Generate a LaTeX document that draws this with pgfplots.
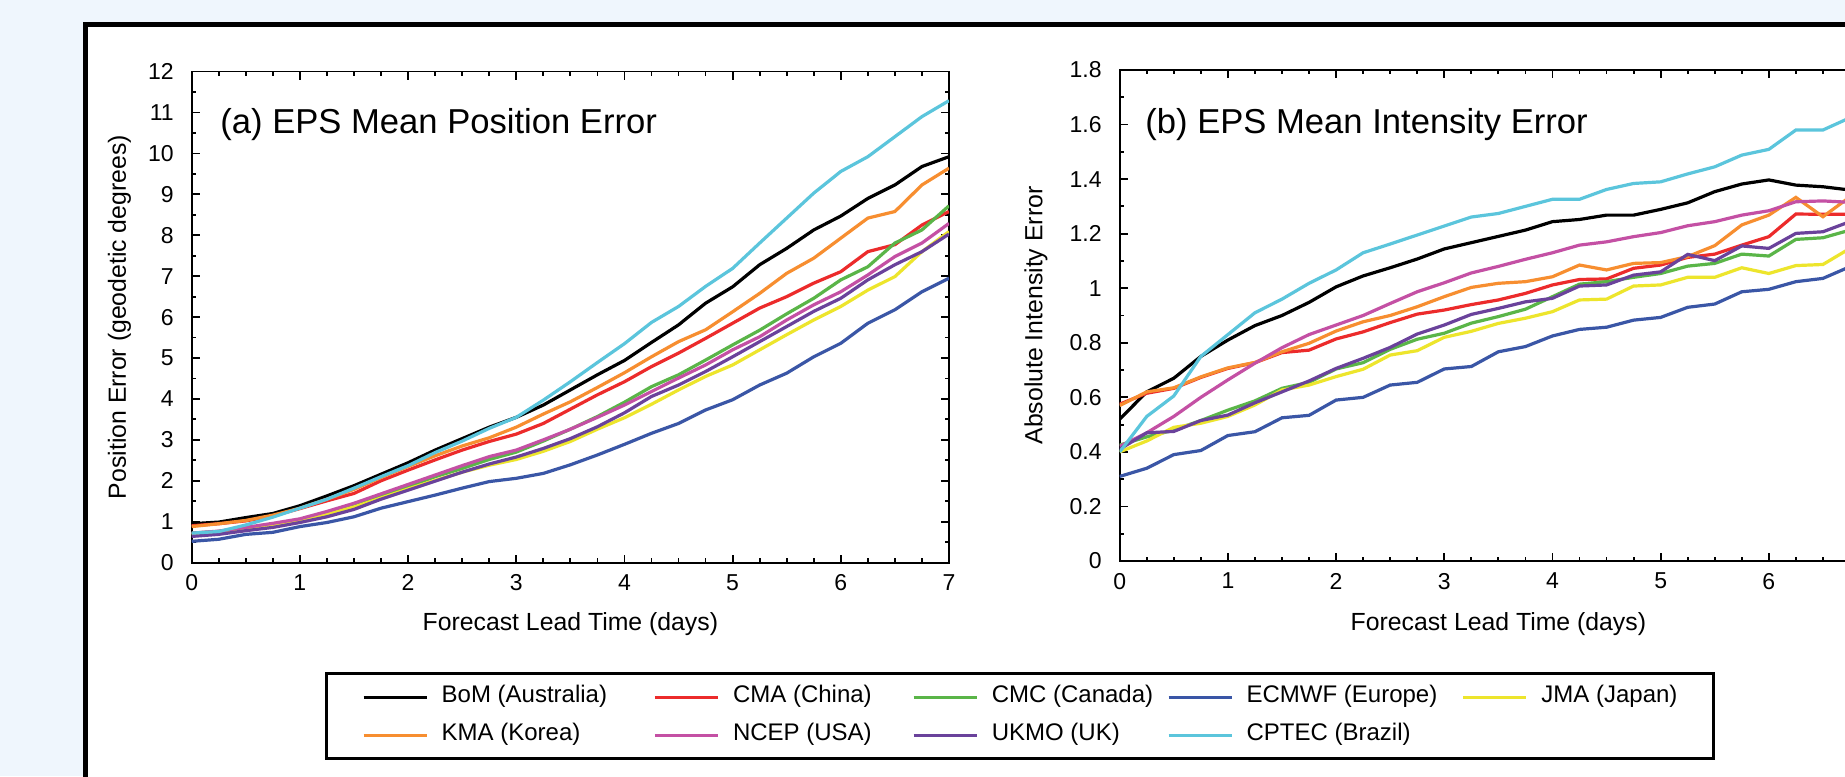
\documentclass[border=0pt]{standalone}
\usepackage{fontspec}
\setmainfont{Liberation Sans}
\usepackage{pgfplots}
\usepackage{pgfplotstable}
\pgfplotsset{compat=1.18}

\definecolor{bgblue}{RGB}{239,246,253}
\definecolor{cbom}{HTML}{000000}
\definecolor{ccma}{HTML}{EC2B2B}
\definecolor{ccmc}{HTML}{5AB548}
\definecolor{cecm}{HTML}{3A56A6}
\definecolor{cjma}{HTML}{EDE52C}
\definecolor{ckma}{HTML}{F78E30}
\definecolor{cncep}{HTML}{C450A4}
\definecolor{cukmo}{HTML}{6A429B}
\definecolor{ccptec}{HTML}{5BC5DC}

% position error (geodetic degrees)
\pgfplotstableread{
t    bom   cma   cmc   ecmwf jma   kma   ncep  ukmo  cptec
0    0.95  0.90  0.72  0.52  0.70  0.88  0.72  0.64  0.72
0.25 0.99  0.95  0.76  0.57  0.75  0.95  0.77  0.69  0.76
0.5  1.10  1.02  0.84  0.69  0.83  1.03  0.86  0.78  0.92
0.75 1.20  1.14  0.92  0.74  0.91  1.16  0.96  0.86  1.11
1    1.39  1.32  1.03  0.88  1.01  1.33  1.07  0.98  1.33
1.25 1.63  1.51  1.19  0.98  1.18  1.55  1.25  1.12  1.55
1.5  1.88  1.69  1.38  1.12  1.36  1.79  1.45  1.30  1.82
1.75 2.16  2.00  1.61  1.33  1.58  2.08  1.68  1.55  2.10
2    2.44  2.26  1.86  1.49  1.80  2.35  1.91  1.77  2.37
2.25 2.75  2.51  2.10  1.65  2.01  2.61  2.14  1.99  2.69
2.5  3.03  2.75  2.30  1.82  2.21  2.85  2.37  2.21  2.97
2.75 3.31  2.96  2.52  1.98  2.38  3.05  2.59  2.41  3.28
3    3.55  3.14  2.70  2.06  2.52  3.31  2.75  2.58  3.55
3.25 3.85  3.40  2.97  2.18  2.72  3.63  3.00  2.79  3.97
3.5  4.22  3.75  3.26  2.39  2.96  3.93  3.26  3.03  4.42
3.75 4.59  4.10  3.57  2.63  3.26  4.28  3.55  3.32  4.89
4    4.94  4.42  3.92  2.89  3.54  4.64  3.85  3.66  5.35
4.25 5.38  4.79  4.30  3.16  3.87  5.03  4.18  4.06  5.87
4.5  5.81  5.12  4.59  3.40  4.22  5.40  4.51  4.34  6.26
4.75 6.34  5.48  4.95  3.73  4.55  5.69  4.83  4.67  6.75
5    6.74  5.85  5.32  3.98  4.83  6.13  5.20  5.03  7.19
5.25 7.28  6.22  5.68  4.34  5.20  6.58  5.52  5.40  7.81
5.5  7.68  6.50  6.08  4.63  5.57  7.07  5.93  5.77  8.42
5.75 8.13  6.83  6.46  5.03  5.93  7.44  6.30  6.14  9.03
6    8.47  7.11  6.91  5.36  6.26  7.93  6.62  6.46  9.56
6.25 8.90  7.60  7.23  5.85  6.66  8.42  7.03  6.91  9.92
6.5  9.23  7.77  7.81  6.18  6.99  8.58  7.48  7.28  10.41
6.75 9.68  8.25  8.13  6.62  7.60  9.23  7.81  7.60  10.90
7    9.92  8.58  8.72  6.95  8.09  9.64  8.29  8.03  11.29
}\postab

% absolute intensity error
\pgfplotstableread{
t    bom   cma   cmc   ecmwf jma   kma   ncep  ukmo  cptec
0    0.52  0.575 0.425 0.31  0.40  0.57  0.42  0.41  0.40
0.25 0.62  0.615 0.455 0.34  0.44  0.62  0.47  0.47  0.53
0.5  0.67  0.633 0.48  0.39  0.49  0.635 0.53  0.475 0.605
0.75 0.75  0.673 0.515 0.405 0.505 0.675 0.60  0.515 0.75
1    0.81  0.706 0.553 0.46  0.53  0.708 0.664 0.535 0.83
1.25 0.863 0.727 0.587 0.474 0.572 0.728 0.725 0.58  0.91
1.5  0.90  0.764 0.633 0.525 0.627 0.767 0.782 0.62  0.96
1.75 0.948 0.773 0.655 0.534 0.645 0.798 0.83  0.66  1.018
2    1.005 0.814 0.704 0.59  0.676 0.843 0.865 0.706 1.067
2.25 1.045 0.84  0.727 0.60  0.703 0.877 0.90  0.743 1.13
2.5  1.075 0.874 0.776 0.645 0.755 0.90  0.944 0.783 1.162
2.75 1.107 0.905 0.813 0.655 0.771 0.932 0.987 0.832 1.195
3    1.144 0.92  0.835 0.704 0.82  0.969 1.02  0.865 1.228
3.25 1.167 0.94  0.872 0.713 0.842 1.003 1.056 0.904 1.261
3.5  1.19  0.957 0.896 0.767 0.871 1.018 1.08  0.926 1.274
3.75 1.213 0.981 0.923 0.786 0.89  1.024 1.106 0.95  1.30
4    1.244 1.012 0.969 0.825 0.914 1.042 1.13  0.963 1.326
4.25 1.252 1.032 1.015 0.849 0.957 1.085 1.158 1.008 1.326
4.5  1.268 1.034 1.024 0.857 0.96  1.067 1.17  1.012 1.362
4.75 1.268 1.073 1.04  0.883 1.008 1.091 1.189 1.048 1.384
5    1.289 1.085 1.054 0.893 1.012 1.094 1.204 1.06  1.39
5.25 1.313 1.113 1.081 0.93  1.04  1.116 1.229 1.124 1.419
5.5  1.354 1.125 1.091 0.942 1.04  1.156 1.244 1.101 1.445
5.75 1.382 1.158 1.125 0.987 1.075 1.232 1.268 1.155 1.488
6    1.397 1.189 1.118 0.996 1.054 1.268 1.284 1.146 1.509
6.25 1.378 1.272 1.179 1.024 1.083 1.333 1.317 1.201 1.58
6.5  1.372 1.271 1.185 1.036 1.087 1.262 1.32  1.207 1.58
6.75 1.36  1.271 1.213 1.079 1.146 1.335 1.315 1.244 1.625
7    1.35  1.29  1.25  1.12  1.20  1.30  1.33  1.28  1.66
}\inttab

\newcommand{\LE}[2]{\hspace*{6.75pt}\makebox[#1][l]{#2}}

\pgfplotsset{
  eps/.style={
    scale only axis, width=378.65pt, height=245.5pt, anchor=south west,
    xmin=0, xmax=7, xtick={0,1,...,7},
    minor x tick num=3, minor y tick num=1,
    tick align=inside, tick pos=both,
    axis line style={line width=0.9pt},
    tick style={line width=0.9pt, black},
    major tick length=4pt, minor tick length=2.2pt,
    /pgf/number format/assume math mode=true,
    ticklabel style={font=\fontsize{11.5}{13}\selectfont},
    xticklabel style={yshift=-2.5pt},
    yticklabel style={xshift=-5.5pt},
    label style={font=\fontsize{12.4}{14}\selectfont},
    xlabel={Forecast Lead Time (days)},
    every axis plot/.append style={line width=1.6pt, mark=none},
  },
}

\begin{document}
\begin{tikzpicture}
\useasboundingbox (0,0) rectangle (922.5pt,388pt);
\fill[bgblue] (0,0) rectangle (922.5pt,388pt);
\clip (0,0) rectangle (922.5pt,388pt);
\filldraw[fill=white, draw=black, line width=2.5pt] (42.9pt,-20pt) rectangle (1000pt,375.9pt);

\begin{axis}[eps, at={(95.85pt,106.7pt)},
    ymin=0, ymax=12, ytick={0,1,...,12},
    ylabel={Position Error (geodetic degrees)},
    ylabel style={at={(axis description cs:-0.0953,0.5)}, anchor=center},
    xlabel style={at={(axis description cs:0.5,0)}, anchor=base, yshift=-33.7pt},
    legend columns=5,
    legend image code/.code={\draw[#1] (0pt,0pt) -- (31.5pt,0pt);},
    legend style={at={(0.1754,-0.2238)}, anchor=north west, draw=black,
      line width=1.5pt, inner xsep=18pt, inner ysep=6pt,
      row sep=7.5pt, column sep=0pt, font=\fontsize{12}{14}\selectfont,
      nodes={inner sep=0pt, text height=8.5pt, text depth=3pt},
      cells={anchor=center}},
]
\addplot[cbom]   table[x=t, y=bom]   {\postab};
\addplot[ccma]   table[x=t, y=cma]   {\postab};
\addplot[ccmc]   table[x=t, y=cmc]   {\postab};
\addplot[cecm]   table[x=t, y=ecmwf] {\postab};
\addplot[cjma]   table[x=t, y=jma]   {\postab};
\addplot[ckma]   table[x=t, y=kma]   {\postab};
\addplot[cncep]  table[x=t, y=ncep]  {\postab};
\addplot[cukmo]  table[x=t, y=ukmo]  {\postab};
\addplot[ccptec] table[x=t, y=cptec] {\postab};
\legend{\LE{105.8pt}{BoM (Australia)}, \LE{89.55pt}{CMA (China)}, \LE{87.55pt}{CMC (Canada)},
  \LE{107.55pt}{ECMWF (Europe)}, \LE{68pt}{JMA (Japan)},
  \LE{105.8pt}{KMA (Korea)}, \LE{89.55pt}{NCEP (USA)}, \LE{87.55pt}{UKMO (UK)},
  \LE{107.55pt}{CPTEC (Brazil)}}
\node[anchor=base west, inner sep=0pt, font=\fontsize{17.3}{20}\selectfont]
  at (axis description cs:0.0374,0.873) {(a) EPS Mean Position Error};
\end{axis}

% panel (b) runs past the right edge of the picture, as in the original
\begin{axis}[eps, at={(559.85pt,107.5pt)},
    xticklabels={0,1,2,3,4,5,6,{}},
    ymin=0, ymax=1.8, ytick={0,0.2,0.4,0.6,0.8,1,1.2,1.4,1.6,1.8},
    ylabel={Absolute Intensity Error},
    ylabel style={at={(axis description cs:-0.1105,0.5)}, anchor=center},
    xlabel style={at={(axis description cs:0.5,0)}, anchor=base, yshift=-34.5pt},
]
\addplot[cbom]   table[x=t, y=bom]   {\inttab};
\addplot[ccma]   table[x=t, y=cma]   {\inttab};
\addplot[ccmc]   table[x=t, y=cmc]   {\inttab};
\addplot[cecm]   table[x=t, y=ecmwf] {\inttab};
\addplot[cjma]   table[x=t, y=jma]   {\inttab};
\addplot[ckma]   table[x=t, y=kma]   {\inttab};
\addplot[cncep]  table[x=t, y=ncep]  {\inttab};
\addplot[cukmo]  table[x=t, y=ukmo]  {\inttab};
\addplot[ccptec] table[x=t, y=cptec] {\inttab};
\node[anchor=base west, inner sep=0pt, font=\fontsize{17.3}{20}\selectfont]
  at (axis description cs:0.0334,0.871) {(b) EPS Mean Intensity Error};
\end{axis}
\end{tikzpicture}
\end{document}
